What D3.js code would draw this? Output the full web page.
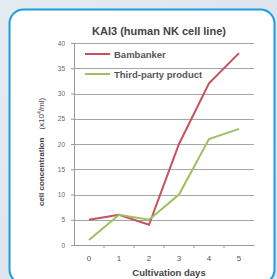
<!DOCTYPE html>
<html lang="en">
<head>
  <meta charset="UTF-8">
  <script src="https://d3js.org/d3.v7.min.js"></script>
  <title>KAI3</title>
  <style>
    html, body { margin: 0; padding: 0; }
    body { width: 277px; height: 279px; overflow: hidden; background: linear-gradient(135deg, #e4ebf2, #d6e1ea); }
    svg { display: block; font-family: "Liberation Sans", Arial, sans-serif; }
  </style>
</head>
<body>
  <script>
    const days = ["0", "1", "2", "3", "4", "5"]
    const bambanker = [5, 6, 4, 20, 32, 38]
    const thirdParty = [1, 6, 5, 10, 21, 23]
    const yTicks = [0, 5, 10, 15, 20, 25, 30, 35, 40]
    const seriesNames = ["Bambanker", "Third-party product"]
    const seriesColors = ["#c9505a", "#9bc15e"]

    const dimension = {
      width: 277,
      height: 279,
      margin: { top: 43, right: 23, bottom: 34, left: 74 }
    }
    dimension.boundedWidth = dimension.width - dimension.margin.left - dimension.margin.right
    dimension.boundedHeight = dimension.height - dimension.margin.top - dimension.margin.bottom

    const svg = d3.select("body")
      .append("svg")
      .attr("width", dimension.width)
      .attr("height", dimension.height)

    // white panel (bottom runs past the window edge)
    svg.append("rect")
      .attr("x", 9.5).attr("y", 9.5)
      .attr("width", 265).attr("height", 274)
      .attr("rx", 14)
      .attr("fill", "#fff")
      .attr("stroke", "#1a9de0")
      .attr("stroke-width", 2)

    svg.append("text")
      .attr("x", 159).attr("y", 35)
      .attr("text-anchor", "middle")
      .attr("font-size", 11)
      .attr("font-weight", "bold")
      .attr("fill", "#444")
      .text("KAI3 (human NK cell line)")

    const bounds = svg.append("g")
      .attr("transform", `translate(${dimension.margin.left}, ${dimension.margin.top})`)

    const xScale = d3.scaleBand()
      .domain(days)
      .range([0, dimension.boundedWidth])

    const yScale = d3.scaleLinear()
      .domain([0, 40])
      .range([dimension.boundedHeight, 0])

    // gridlines
    bounds.append("g")
      .selectAll("line")
      .data(yTicks.filter(d => d > 0))
      .join("line")
      .attr("x1", 0).attr("x2", dimension.boundedWidth)
      .attr("y1", d => Math.round(yScale(d)) + 0.5)
      .attr("y2", d => Math.round(yScale(d)) + 0.5)
      .attr("stroke", "#a6a6a6")
      .attr("stroke-width", 1)

    const yAxis = bounds.append("g")
      .call(d3.axisLeft(yScale).tickValues(yTicks).tickSize(3).tickPadding(6))
    yAxis.select(".domain").attr("stroke", "#999")
    yAxis.selectAll(".tick line").attr("stroke", "#999")
    yAxis.selectAll("text").attr("font-size", 6.5).attr("fill", "#666").attr("font-family", "inherit")

    const xAxis = bounds.append("g")
      .attr("transform", `translate(0, ${dimension.boundedHeight})`)
      .call(d3.axisBottom(xScale).tickSize(0).tickPadding(10))
    xAxis.select(".domain").attr("stroke", "#999")
    xAxis.selectAll("text").attr("font-size", 8).attr("fill", "#555").attr("font-family", "inherit")

    // tick marks between categories
    bounds.append("g")
      .selectAll("line")
      .data(days.slice(1))
      .join("line")
      .attr("x1", d => xScale(d)).attr("x2", d => xScale(d))
      .attr("y1", dimension.boundedHeight).attr("y2", dimension.boundedHeight + 3)
      .attr("stroke", "#999")

    const lineGenerator = d3.line()
      .x((d, i) => xScale(days[i]) + xScale.bandwidth() / 2)
      .y(d => yScale(d))

    ;[bambanker, thirdParty].forEach((values, i) => {
      bounds.append("path")
        .attr("d", lineGenerator(values))
        .attr("fill", "none")
        .attr("stroke", seriesColors[i])
        .attr("stroke-width", 2)
    })

    // legend
    const legend = bounds.append("g")
      .selectAll("g")
      .data(seriesNames)
      .join("g")
      .attr("transform", (d, i) => `translate(11, ${11 + i * 20})`)
    legend.append("line")
      .attr("x1", 0).attr("x2", 25)
      .attr("stroke", (d, i) => seriesColors[i])
      .attr("stroke-width", 2)
    legend.append("text")
      .attr("x", 29).attr("y", 3.5)
      .attr("font-size", 9.5)
      .attr("font-weight", "bold")
      .attr("fill", "#555")
      .text(d => d)

    svg.append("text")
      .attr("x", 169).attr("y", 276)
      .attr("text-anchor", "middle")
      .attr("font-size", 9.5)
      .attr("font-weight", "bold")
      .attr("fill", "#444")
      .text("Cultivation days")

    const yLabel = svg.append("text")
      .attr("transform", "translate(44, 152) rotate(-90)")
      .attr("text-anchor", "middle")
      .attr("font-size", 8)
      .attr("fill", "#444")
    yLabel.append("tspan").attr("font-weight", "bold").text("cell concentration")
    yLabel.append("tspan").attr("dx", 8).text("(x10")
    yLabel.append("tspan").attr("font-size", 5).attr("dy", -3).text("4")
    yLabel.append("tspan").attr("dy", 3).text("/ml)")
  </script>
</body>
</html>
